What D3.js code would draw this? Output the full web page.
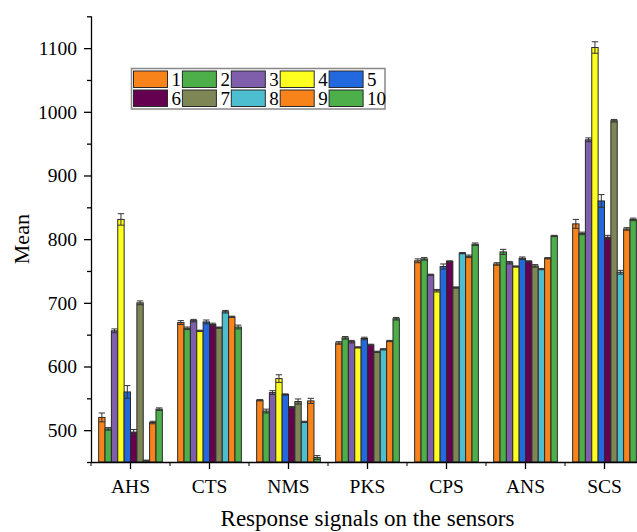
<!DOCTYPE html>
<html>
<head>
<meta charset="utf-8">
<script src="https://cdn.jsdelivr.net/npm/d3@7"></script>
<style>
  html, body { margin: 0; padding: 0; background: #fff; }
  svg { display: block; }
  text { font-family: "Liberation Serif", "Times New Roman", serif; fill: #000; }
</style>
</head>
<body>
<svg id="chart" width="637" height="532"></svg>
<script>
// Sensors on the x axis and the ten sample groups drawn in each
const categories = ["AHS", "CTS", "NMS", "PKS", "CPS", "ANS", "SCS"];
const seriesNames = ["1", "2", "3", "4", "5", "6", "7", "8", "9", "10"];
const seriesColors = ["#F8831A", "#4CAF4A", "#7F5FAC", "#FFFF1F", "#2268DF",
                      "#650050", "#7E8656", "#4CBECF", "#F8831A", "#4CAF4A"];

// Mean response per sensor, one value per sample group 1..10
const meanAHS = [520, 502, 656, 831, 560, 497, 700, 452, 512, 533];
const meanCTS = [669, 660, 672, 656, 670, 666, 661, 686, 678, 662];
const meanNMS = [547, 530, 559, 581, 556, 536, 545, 513, 546, 457];
const meanPKS = [637, 645, 639, 630, 644, 634, 623, 627, 640, 675];
const meanCPS = [766, 769, 744, 719, 757, 765, 724, 778, 773, 792];
const meanANS = [761, 780, 763, 757, 770, 765, 758, 753, 770, 805];
const meanSCS = [824, 809, 956, 1101, 860, 803, 986, 748, 816, 831];

// Standard deviation for the error bars
const sdAHS = [7, 2, 3, 9, 10, 4, 3, 1, 2, 2];
const sdCTS = [3, 2, 2, 1, 3, 2, 1, 2, 1, 3];
const sdNMS = [1, 3, 3, 6, 1, 1, 4, 1, 4, 3];
const sdPKS = [2, 2, 2, 1, 2, 1, 1, 1, 1, 2];
const sdCPS = [3, 2, 1, 2, 4, 1, 1, 1, 2, 2];
const sdANS = [2, 4, 2, 1, 2, 1, 2, 1, 1, 1];
const sdSCS = [7, 2, 3, 9, 10, 3, 2, 3, 2, 2];

const yTicks = [500, 600, 700, 800, 900, 1000, 1100];
const yMinorTicks = [450, 550, 650, 750, 850, 950, 1050, 1150];

const means = [meanAHS, meanCTS, meanNMS, meanPKS, meanCPS, meanANS, meanSCS];
const sds = [sdAHS, sdCTS, sdNMS, sdPKS, sdCPS, sdANS, sdSCS];

const rows = [];
categories.forEach((c, i) => {
  seriesNames.forEach((s, j) => {
    rows.push({ cat: c, series: s, idx: j, value: means[i][j], sd: sds[i][j] });
  });
});

const svg = d3.select("#chart");
const serif = '"Liberation Serif", "Times New Roman", serif';

const x = d3.scaleBand().domain(categories).range([91, 644]).paddingInner(0).paddingOuter(0);
const xInner = d3.scaleBand().domain(seriesNames).range([0, x.bandwidth()]).paddingInner(0).paddingOuter(1.2);
const y = d3.scaleLinear().domain([450, 1150]).range([462, 16.3]);

// Bars
const g = svg.append("g");
g.selectAll("rect.bar")
  .data(rows)
  .join("rect")
  .attr("class", "bar")
  .attr("x", d => x(d.cat) + xInner(d.series))
  .attr("y", d => y(d.value))
  .attr("width", xInner.bandwidth())
  .attr("height", d => y(450) - y(d.value))
  .attr("fill", d => seriesColors[d.idx])
  .attr("stroke", "#2a2a2a")
  .attr("stroke-width", 1);

// Error bars
const eb = g.selectAll("g.err").data(rows.filter(d => d.sd > 0)).join("g").attr("class", "err")
  .attr("stroke", "#333").attr("stroke-width", 1);
const cx = d => x(d.cat) + xInner(d.series) + xInner.bandwidth() / 2;
const capW = 3.2;
eb.append("line")
  .attr("x1", cx).attr("x2", cx)
  .attr("y1", d => y(d.value - d.sd)).attr("y2", d => y(d.value + d.sd));
eb.append("line")
  .attr("x1", d => cx(d) - capW).attr("x2", d => cx(d) + capW)
  .attr("y1", d => y(d.value + d.sd)).attr("y2", d => y(d.value + d.sd));
eb.append("line")
  .attr("x1", d => cx(d) - capW).attr("x2", d => cx(d) + capW)
  .attr("y1", d => y(d.value - d.sd)).attr("y2", d => y(d.value - d.sd));

// Y axis
const yAxis = svg.append("g").attr("transform", "translate(91,0)")
  .attr("font-family", serif)
  .call(d3.axisLeft(y).tickValues(yTicks).tickFormat(d3.format("d")).tickSize(7).tickPadding(7));
svg.append("g").attr("transform", "translate(91,0)")
  .call(d3.axisLeft(y).tickValues(yMinorTicks).tickFormat("").tickSize(4).tickSizeOuter(0))
  .select(".domain").remove();
yAxis.select(".domain").attr("d", `M0.5,${y(450)}V${y(1150)}`);
yAxis.selectAll("text").style("font-size", "19.5px").style("font-family", serif);

// X axis
const xAxis = svg.append("g").attr("transform", `translate(0,${y(450)})`)
  .attr("font-family", serif)
  .call(d3.axisBottom(x).tickSize(7).tickPadding(10).tickSizeOuter(0));
xAxis.select(".domain").attr("d", `M91,0.5H644`);
xAxis.selectAll("text").style("font-size", "19.5px").style("font-family", serif);
const bounds = categories.map(c => x(c)).concat([x.range()[1]]);
svg.append("g").attr("transform", `translate(0,${y(450)})`)
  .selectAll("line").data(bounds).join("line")
  .attr("x1", d => d).attr("x2", d => d)
  .attr("y1", 0).attr("y2", 4)
  .attr("stroke", "#000");
svg.selectAll(".domain, .tick line").attr("stroke", "#000").attr("stroke-width", 1.3);

// Axis titles
svg.append("text")
  .attr("x", (x.range()[0] + x.range()[1]) / 2)
  .attr("y", 526)
  .attr("text-anchor", "middle")
  .style("font-size", "23px")
  .text("Response signals on the sensors");
svg.append("text")
  .attr("transform", `translate(29,${(y(450) + y(1150)) / 2}) rotate(-90)`)
  .attr("text-anchor", "middle")
  .style("font-size", "22px")
  .text("Mean");

// Legend
const legend = svg.append("g");
legend.append("rect")
  .attr("x", 131.5).attr("y", 68.5).attr("width", 253.5).attr("height", 40.5)
  .attr("fill", "#fff").attr("stroke", "#888").attr("stroke-width", 1.5);
const items = legend.selectAll("g.item").data(seriesNames).join("g").attr("class", "item")
  .attr("transform", (d, i) => `translate(${133.5 + (i % 5) * 48.9},${i < 5 ? 71 : 90})`);
items.append("rect")
  .attr("width", 34).attr("height", 16.5)
  .attr("fill", (d, i) => seriesColors[i])
  .attr("stroke", "#2a2a2a").attr("stroke-width", 1);
items.append("text")
  .attr("x", 38).attr("y", 15)
  .style("font-size", "19px")
  .text(d => d);
</script>
</body>
</html>
